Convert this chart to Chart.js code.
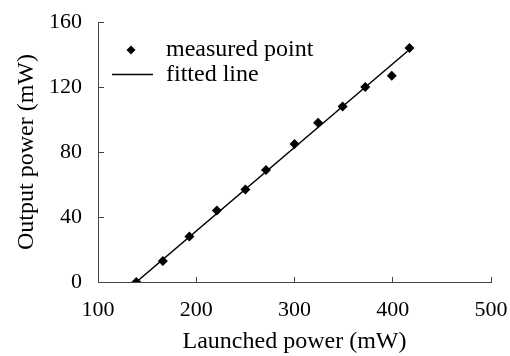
<!DOCTYPE html>
<html>
<head>
<meta charset="utf-8">
<script src="https://cdn.jsdelivr.net/npm/chart.js@4"></script>
<style>
  html, body { margin: 0; padding: 0; background: #fff; }
  #wrap { width: 510px; height: 356px; }
</style>
</head>
<body>
<div id="wrap"><canvas id="chart_power"></canvas></div>
<script>
// measured points
const launchedPower = [139, 166, 193, 221, 250, 271, 300, 324, 349, 372, 399, 417];
const outputPower = [0, 13, 28, 44, 57, 69, 85, 98, 108, 120, 127, 144];
// fitted line end points
const fitLaunched = [139, 415];
const fitOutput = [0, 142];

const xTicks = [100, 200, 300, 400, 500];
const yTicks = [0, 40, 80, 120, 160];

const serif = "'Liberation Serif', 'Times New Roman', serif";

function toPoints(xs, ys) {
  let list = [];
  for (var i = 0; i < xs.length; i++) {
    list.push({ x: xs[i], y: ys[i] });
  }
  return list;
}

// legend sits inside the plot, top left
const insideLegend = {
  id: 'insideLegend',
  afterDraw(chart) {
    const ctx = chart.ctx;
    ctx.save();
    ctx.fillStyle = '#000';
    ctx.strokeStyle = '#000';
    // diamond
    ctx.beginPath();
    ctx.moveTo(131, 45.5);
    ctx.lineTo(135.5, 50);
    ctx.lineTo(131, 54.5);
    ctx.lineTo(126.5, 50);
    ctx.closePath();
    ctx.fill();
    // line
    ctx.lineWidth = 1.5;
    ctx.beginPath();
    ctx.moveTo(112, 74.5);
    ctx.lineTo(153, 74.5);
    ctx.stroke();
    ctx.font = "24px " + serif;
    ctx.textBaseline = 'middle';
    ctx.fillText('measured point', 166, 50);
    ctx.fillText('fitted line', 166, 75);
    ctx.restore();
  }
};

new Chart(document.getElementById("chart_power"), {
  type: 'scatter',
  data: {
    datasets: [{
        label: "measured point",
        data: toPoints(launchedPower, outputPower),
        pointStyle: 'rectRot',
        pointRadius: 5,
        backgroundColor: '#000',
        borderColor: '#000',
        borderWidth: 0,
        showLine: false
      },{
        label: "fitted line",
        data: toPoints(fitLaunched, fitOutput),
        showLine: true,
        pointRadius: 0,
        borderColor: '#000',
        borderWidth: 1.5
      }]
  },
  options: {
    responsive: true,
    maintainAspectRatio: false,
    animation: false,
    layout: { padding: { left: 12, right: 19, top: 22, bottom: 0 } },
    plugins: {
      legend: { display: false },
      tooltip: { enabled: false }
    },
    scales: {
      x: {
        type: 'linear',
        min: 100,
        max: 500,
        afterBuildTicks: (scale) => { scale.ticks = xTicks.map(v => ({ value: v })); },
        afterFit: (scale) => {
          scale.height = 74;
          scale.paddingLeft = 0;
          scale.paddingRight = 0;
        },
        border: { color: '#444', width: 1 },
        grid: { drawOnChartArea: false, tickLength: -5, color: '#444' },
        ticks: { color: '#000', padding: 20, font: { family: serif, size: 22 } },
        title: {
          display: true,
          text: 'Launched power (mW)',
          color: '#000',
          font: { family: serif, size: 24 },
          padding: { top: 0, bottom: 0 }
        }
      },
      y: {
        type: 'linear',
        min: 0,
        max: 160,
        afterBuildTicks: (scale) => { scale.ticks = yTicks.map(v => ({ value: v })); },
        afterFit: (scale) => {
          scale.width = 86;
          scale.paddingTop = 0;
          scale.paddingBottom = 0;
        },
        border: { color: '#444', width: 1 },
        grid: { drawOnChartArea: false, tickLength: -6, color: '#444' },
        ticks: { color: '#000', padding: 22, font: { family: serif, size: 22 } },
        title: {
          display: true,
          text: 'Output power (mW)',
          color: '#000',
          font: { family: serif, size: 24 },
          padding: { top: 0, bottom: 0 }
        }
      }
    }
  },
  plugins: [insideLegend]
});
</script>
</body>
</html>
